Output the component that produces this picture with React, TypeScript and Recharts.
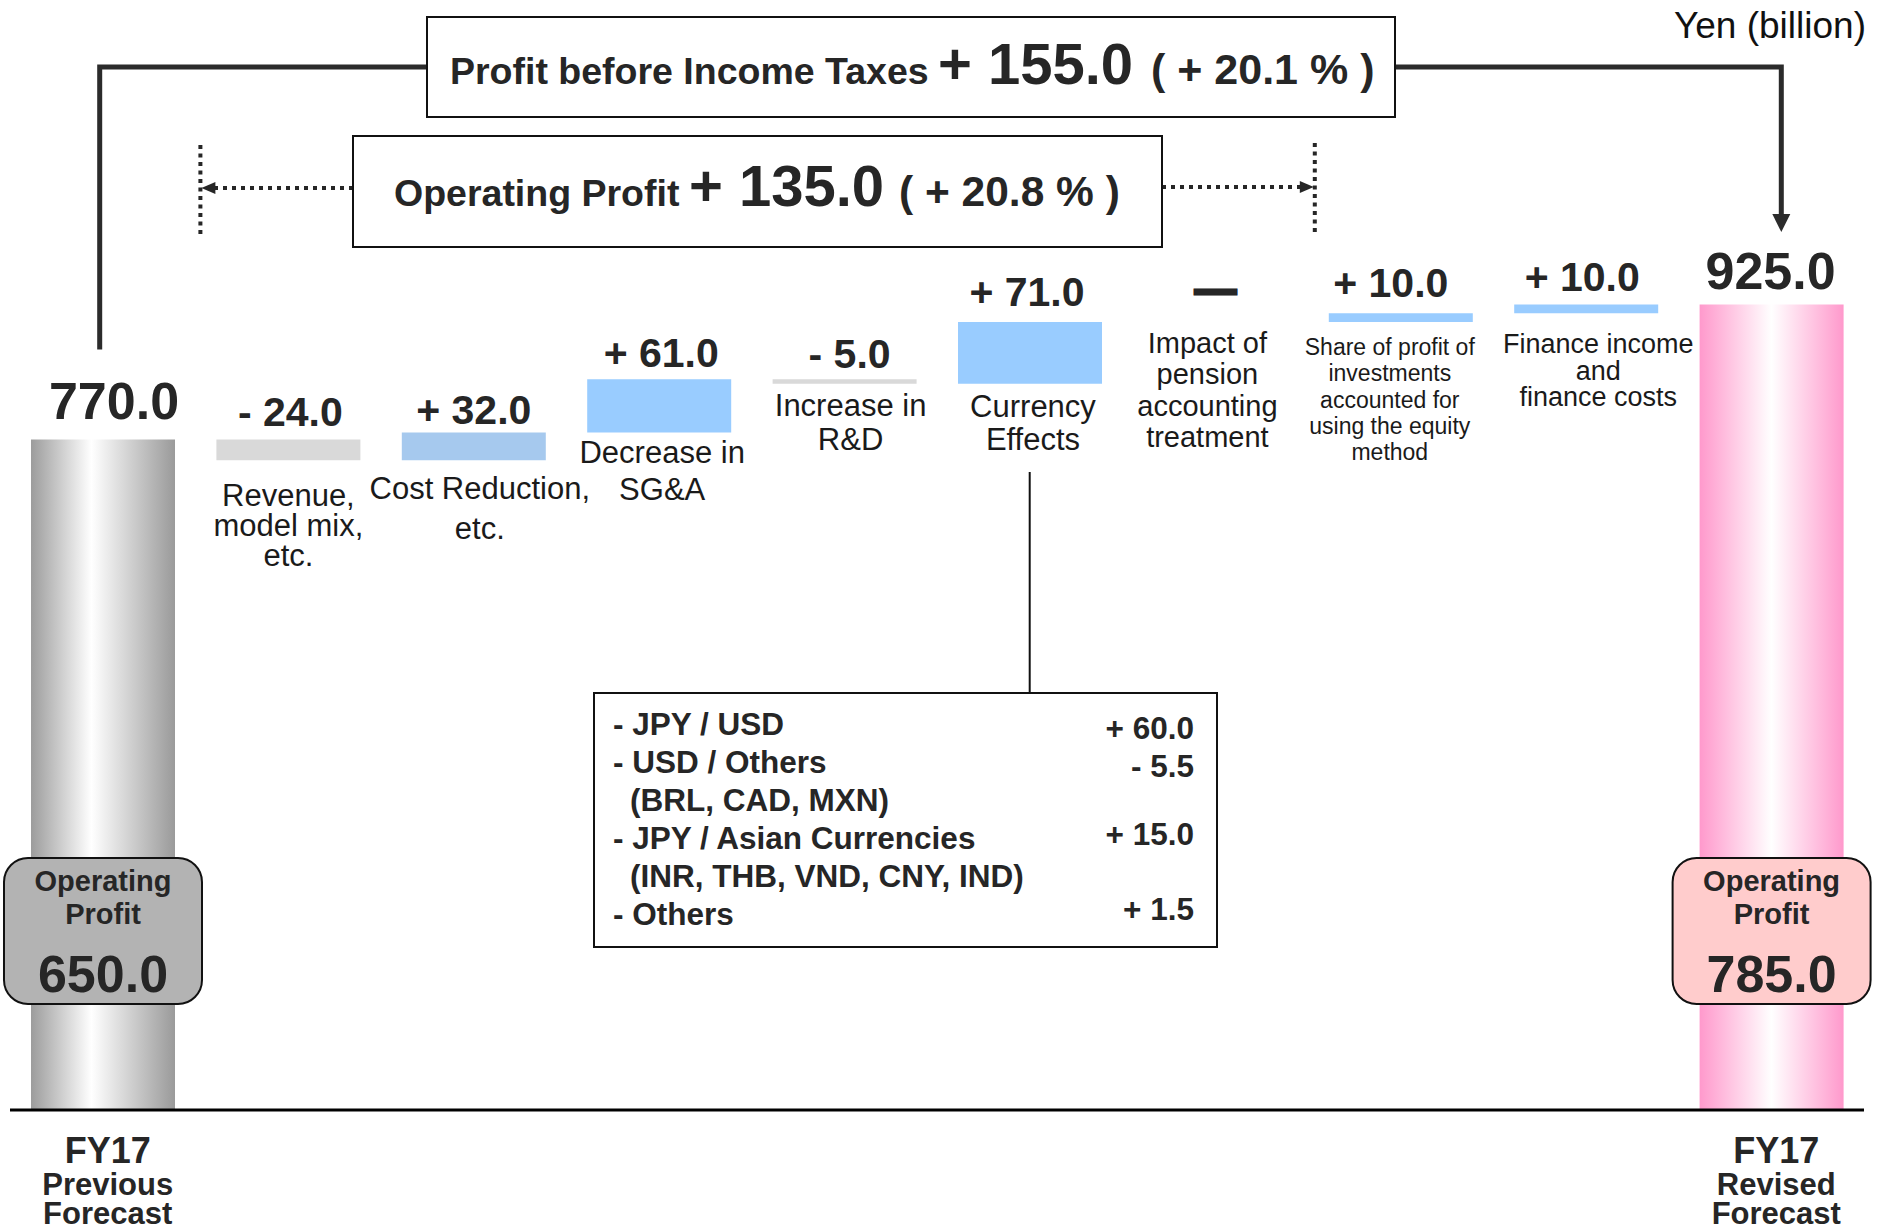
import { Bar, BarChart, Cell, LabelList, XAxis, YAxis } from "recharts";

// ---- data ----
const CATEGORY_LINES: string[][] = [
  ["FY17", "Previous", "Forecast"],
  ["Revenue,", "model mix,", "etc."],
  ["Cost Reduction,", "etc."],
  ["Decrease in", "SG&A"],
  ["Increase in", "R&D"],
  ["Currency", "Effects"],
  ["Impact of", "pension", "accounting", "treatment"],
  ["Share of profit of", "investments", "accounted for", "using the equity", "method"],
  ["Finance income", "and", "finance costs"],
  ["FY17", "Revised", "Forecast"],
];
const START_VALUE = 770;
const END_VALUE = 925;
const CHANGES = [-24, 32, 61, -5, 71, 0, 10, 10];

const OP_PREV = 650;
const OP_REV = 785;
const PBT_TITLE = "Profit before Income Taxes";
const OP_TITLE = "Operating Profit";
const BADGE_TITLE = ["Operating", "Profit"];
const UNIT_LABEL = "Yen (billion)";

const CURRENCY_LABELS: string[][] = [
  ["- JPY / USD"],
  ["- USD / Others", "(BRL, CAD, MXN)"],
  ["- JPY / Asian Currencies", "(INR, THB, VND, CNY, IND)"],
  ["- Others"],
];
const CURRENCY_VALUES = [60.0, -5.5, 15.0, 1.5];

// ---- layout ----
const W = 1879;
const H = 1230;
const M = { top: 65, right: 15, bottom: 0, left: 10 };
const AXIS_H = 120;
const Y_MAX = 1200;
const PLOT_H = H - M.top - AXIS_H;
const BAND = (W - M.left - M.right) / CATEGORY_LINES.length;
const xc = (i: number) => M.left + BAND * (i + 0.5);
const yv = (v: number) => M.top + PLOT_H * (1 - v / Y_MAX);

const FONT = '"Liberation Sans", Arial, Helvetica, sans-serif';
const INK = "#262626";

const FILLS = [
  "url(#gGray)", "#d9d9d9", "#a6c9ee", "#99ccff", "#d9d9d9",
  "#99ccff", "#99ccff", "#99ccff", "#99ccff", "url(#gPink)",
];

// value label: horizontal nudge, gap above bar, font size
const VALUE_LAYOUT = [
  { dx: 11, gap: 20, fs: 52 },
  { dx: 2, gap: 13, fs: 41 },
  { dx: 0, gap: 8, fs: 41 },
  { dx: 2, gap: 12, fs: 41 },
  { dx: 5, gap: 11, fs: 41 },
  { dx: -3, gap: 16, fs: 41 },
  { dx: 0, gap: 19, fs: 41 },
  { dx: -10, gap: 16, fs: 41 },
  { dx: -4, gap: 13, fs: 41 },
  { dx: -1, gap: 15, fs: 52 },
];

// category label under bar: font size, line height, first baseline below bar, nudge
const CAT_LAYOUT: ({ fs: number; lh: number; dy: number; dx: number } | null)[] = [
  null,
  { fs: 31, lh: 30, dy: 46, dx: 0 },
  { fs: 31, lh: 40, dy: 39, dx: 6 },
  { fs: 31, lh: 37, dy: 31, dx: 3 },
  { fs: 31, lh: 34, dy: 32, dx: 6 },
  { fs: 31, lh: 33, dy: 33, dx: 3 },
  { fs: 29, lh: 31.5, dy: 31, dx: -8 },
  { fs: 23, lh: 26.4, dy: 33, dx: -11 },
  { fs: 27, lh: 26.4, dy: 40, dx: 12 },
  null,
];

const fmtSigned = (v: number) => (v === 0 ? "—" : `${v > 0 ? "+" : "-"} ${Math.abs(v).toFixed(1)}`);

type Row = { name: string; idx: number; base: number; delta: number; label: string };

function buildRows(): Row[] {
  const rows: Row[] = [];
  rows.push({ name: CATEGORY_LINES[0].join(" "), idx: 0, base: 0, delta: START_VALUE, label: START_VALUE.toFixed(1) });
  let run = START_VALUE;
  CHANGES.forEach((c, k) => {
    rows.push({
      name: CATEGORY_LINES[k + 1].join(" "),
      idx: k + 1,
      base: Math.min(run, run + c),
      delta: Math.abs(c),
      label: fmtSigned(c),
    });
    run += c;
  });
  const last = CATEGORY_LINES.length - 1;
  rows.push({ name: CATEGORY_LINES[last].join(" "), idx: last, base: 0, delta: END_VALUE, label: END_VALUE.toFixed(1) });
  return rows;
}

const rows = buildRows();

function boxOf(props: any) {
  const vb = props.viewBox ?? props;
  return { x: Number(vb.x), y: Number(vb.y), width: Number(vb.width), height: Number(vb.height) };
}

// a zero change has no visible rect, so its labels hang off the top of the invisible base bar
function changeBox(props: any, onBase: boolean) {
  const i = Number(props.value);
  const flat = rows[i].delta === 0;
  if (flat !== onBase) return null;
  const b = boxOf(props);
  return onBase ? { ...b, height: 0 } : b;
}

function valueLabel(props: any, onBase: boolean) {
  const i = Number(props.value);
  const b = changeBox(props, onBase);
  if (!b) return null;
  const L = VALUE_LAYOUT[i];
  const isDash = rows[i].label === "—";
  return (
    <text
      x={b.x + b.width / 2 + L.dx}
      y={b.y - L.gap}
      textAnchor="middle"
      fontFamily={FONT}
      fontWeight="bold"
      fontSize={L.fs}
      fill={INK}
      stroke={isDash ? INK : "none"}
      strokeWidth={isDash ? 3 : 0}
    >
      {rows[i].label}
    </text>
  );
}

function categoryLabel(props: any, onBase: boolean) {
  const i = Number(props.value);
  const L = CAT_LAYOUT[i];
  if (!L) return null;
  const b = changeBox(props, onBase);
  if (!b) return null;
  const cx = b.x + b.width / 2 + L.dx;
  const top = b.y + b.height + L.dy;
  return (
    <text textAnchor="middle" fontFamily={FONT} fontSize={L.fs} fill="#1a1a1a">
      {CATEGORY_LINES[i].map((t, k) => (
        <tspan key={k} x={cx} y={top + k * L.lh}>
          {t}
        </tspan>
      ))}
    </text>
  );
}

function renderBadge(props: any) {
  const i = Number(props.value);
  const last = CATEGORY_LINES.length - 1;
  if (i !== 0 && i !== last) return null;
  const { x, y, width, height } = boxOf(props);
  const cx = x + width / 2;
  const bw = 198;
  const bh = 146;
  const top = y + height - 252;
  const value = i === 0 ? OP_PREV : OP_REV;
  return (
    <g>
      <rect x={cx - bw / 2} y={top} width={bw} height={bh} rx={24} ry={24}
        fill={i === 0 ? "#b3b3b3" : "#ffcccc"} stroke="#111" strokeWidth={2} />
      <text textAnchor="middle" fontFamily={FONT} fontWeight="bold" fill={INK}>
        <tspan x={cx} y={top + 33} fontSize={29}>{BADGE_TITLE[0]}</tspan>
        <tspan x={cx} y={top + 66} fontSize={29}>{BADGE_TITLE[1]}</tspan>
        <tspan x={cx} y={top + 134} fontSize={52}>{value.toFixed(1)}</tspan>
      </text>
    </g>
  );
}

function BottomTick(props: any) {
  const { x, y, payload } = props;
  const i = rows.findIndex((r) => r.name === payload?.value);
  if (i !== 0 && i !== rows.length - 1) return <g />;
  const lines = CATEGORY_LINES[i];
  const cx = Number(x) + 5;
  const y0 = Number(y);
  return (
    <text textAnchor="middle" fontFamily={FONT} fontWeight="bold" fill={INK}>
      <tspan x={cx} y={y0 + 53} fontSize={36}>{lines[0]}</tspan>
      <tspan x={cx} y={y0 + 85} fontSize={31}>{lines[1]}</tspan>
      <tspan x={cx} y={y0 + 114} fontSize={31}>{lines[2]}</tspan>
    </text>
  );
}

function Overlay() {
  const pbt = END_VALUE - START_VALUE;
  const pbtPct = (pbt / START_VALUE) * 100;
  const op = OP_REV - OP_PREV;
  const opPct = (op / OP_PREV) * 100;
  const last = CATEGORY_LINES.length - 1;
  const leftX = xc(0) - 3;
  const rightX = xc(last) + 10;
  const topY = 67;
  const dotL = M.left + BAND + 5;
  const dotR = M.left + BAND * 7 + 7;
  const arrowY = 188;
  const curX = xc(5);
  const cb = { x: 594, y: 693, w: 623, h: 254 };
  let line = 0;
  return (
    <svg width={W} height={H} style={{ position: "absolute", left: 0, top: 0, pointerEvents: "none" }}>
      {/* profit before income taxes connector */}
      <path d={`M${leftX},${yv(START_VALUE) - 90} V${topY} H427`} fill="none" stroke="#2b2b2b" strokeWidth={5} />
      <path d={`M1395,${topY} H${rightX} V216`} fill="none" stroke="#2b2b2b" strokeWidth={5} />
      <polygon points={`${rightX - 9},214 ${rightX + 9},214 ${rightX},232`} fill="#2b2b2b" />
      <rect x={427} y={17} width={968} height={100} fill="#fff" stroke="#111" strokeWidth={2} />
      <text fontFamily={FONT} fontWeight="bold" fill={INK}>
        <tspan x={450} y={84} fontSize={37.5}>{PBT_TITLE}</tspan>
        <tspan x={938} y={84} fontSize={58}>{`+ ${pbt.toFixed(1)}`}</tspan>
        <tspan x={1151} y={84} fontSize={43}>{`( + ${pbtPct.toFixed(1)} % )`}</tspan>
      </text>

      {/* operating profit bracket */}
      <line x1={dotL} y1={145} x2={dotL} y2={236} stroke={INK} strokeWidth={4} strokeDasharray="4 4.5" />
      <line x1={dotR} y1={143} x2={dotR} y2={234} stroke={INK} strokeWidth={4} strokeDasharray="4 4.5" />
      <line x1={353} y1={arrowY} x2={dotL + 13} y2={arrowY} stroke={INK} strokeWidth={4} strokeDasharray="4 5" />
      <polygon points={`${dotL + 1},${arrowY} ${dotL + 15},${arrowY - 6} ${dotL + 15},${arrowY + 6}`} fill={INK} />
      <line x1={1162} y1={arrowY - 1} x2={dotR - 13} y2={arrowY - 1} stroke={INK} strokeWidth={4} strokeDasharray="4 5" />
      <polygon points={`${dotR - 1},${arrowY - 1} ${dotR - 15},${arrowY - 7} ${dotR - 15},${arrowY + 5}`} fill={INK} />
      <rect x={353} y={136} width={809} height={111} fill="#fff" stroke="#111" strokeWidth={2} />
      <text fontFamily={FONT} fontWeight="bold" fill={INK}>
        <tspan x={394} y={206} fontSize={37.5}>{OP_TITLE}</tspan>
        <tspan x={689} y={206} fontSize={58}>{`+ ${op.toFixed(1)}`}</tspan>
        <tspan x={899} y={206} fontSize={42.5}>{`( + ${opPct.toFixed(1)} % )`}</tspan>
      </text>

      <text x={1674} y={38} fontFamily={FONT} fontSize={37} fill="#111">{UNIT_LABEL}</text>

      {/* currency breakdown */}
      <line x1={curX} y1={472} x2={curX} y2={cb.y} stroke="#111" strokeWidth={2} />
      <rect x={cb.x} y={cb.y} width={cb.w} height={cb.h} fill="#fff" stroke="#111" strokeWidth={2} />
      <g fontFamily={FONT} fontWeight="bold" fontSize={31.5} fill={INK}>
        {CURRENCY_LABELS.map((lines, k) => {
          const start = line;
          line += lines.length;
          const shift = [4, 4, -4, -5][k];
          return (
            <g key={k}>
              {lines.map((t, j) => (
                <text key={j} x={j === 0 ? 613 : 630} y={735 + (start + j) * 38}>{t}</text>
              ))}
              <text x={1194} y={735 + start * 38 + shift} textAnchor="end">{fmtSigned(CURRENCY_VALUES[k])}</text>
            </g>
          );
        })}
      </g>
    </svg>
  );
}

export default function App() {
  return (
    <div style={{ position: "absolute", left: 0, top: 0, width: W, height: H, background: "#fff" }}>
      <BarChart width={W} height={H} data={rows} margin={M} barSize={144}>
        <defs>
          <linearGradient id="gGray" x1="0" y1="0" x2="1" y2="0">
            <stop offset="0%" stopColor="#9c9c9c" />
            <stop offset="42%" stopColor="#ffffff" />
            <stop offset="100%" stopColor="#9a9a9a" />
          </linearGradient>
          <linearGradient id="gPink" x1="0" y1="0" x2="1" y2="0">
            <stop offset="0%" stopColor="#ff99cc" />
            <stop offset="50%" stopColor="#ffffff" />
            <stop offset="100%" stopColor="#ff99cc" />
          </linearGradient>
        </defs>
        <XAxis
          dataKey="name"
          height={AXIS_H}
          interval={0}
          tickLine={false}
          tickSize={0}
          tickMargin={0}
          axisLine={{ stroke: "#000", strokeWidth: 3 }}
          tick={<BottomTick />}
        />
        <YAxis hide domain={[0, Y_MAX]} />
        <Bar dataKey="base" stackId="w" fill="none" isAnimationActive={false}>
          <LabelList dataKey="idx" content={(p: any) => valueLabel(p, true)} />
          <LabelList dataKey="idx" content={(p: any) => categoryLabel(p, true)} />
        </Bar>
        <Bar dataKey="delta" stackId="w" isAnimationActive={false}>
          {rows.map((r) => (
            <Cell key={r.idx} fill={FILLS[r.idx]} />
          ))}
          <LabelList dataKey="idx" content={(p: any) => valueLabel(p, false)} />
          <LabelList dataKey="idx" content={(p: any) => categoryLabel(p, false)} />
          <LabelList dataKey="idx" content={renderBadge} />
        </Bar>
      </BarChart>
      <Overlay />
    </div>
  );
}
